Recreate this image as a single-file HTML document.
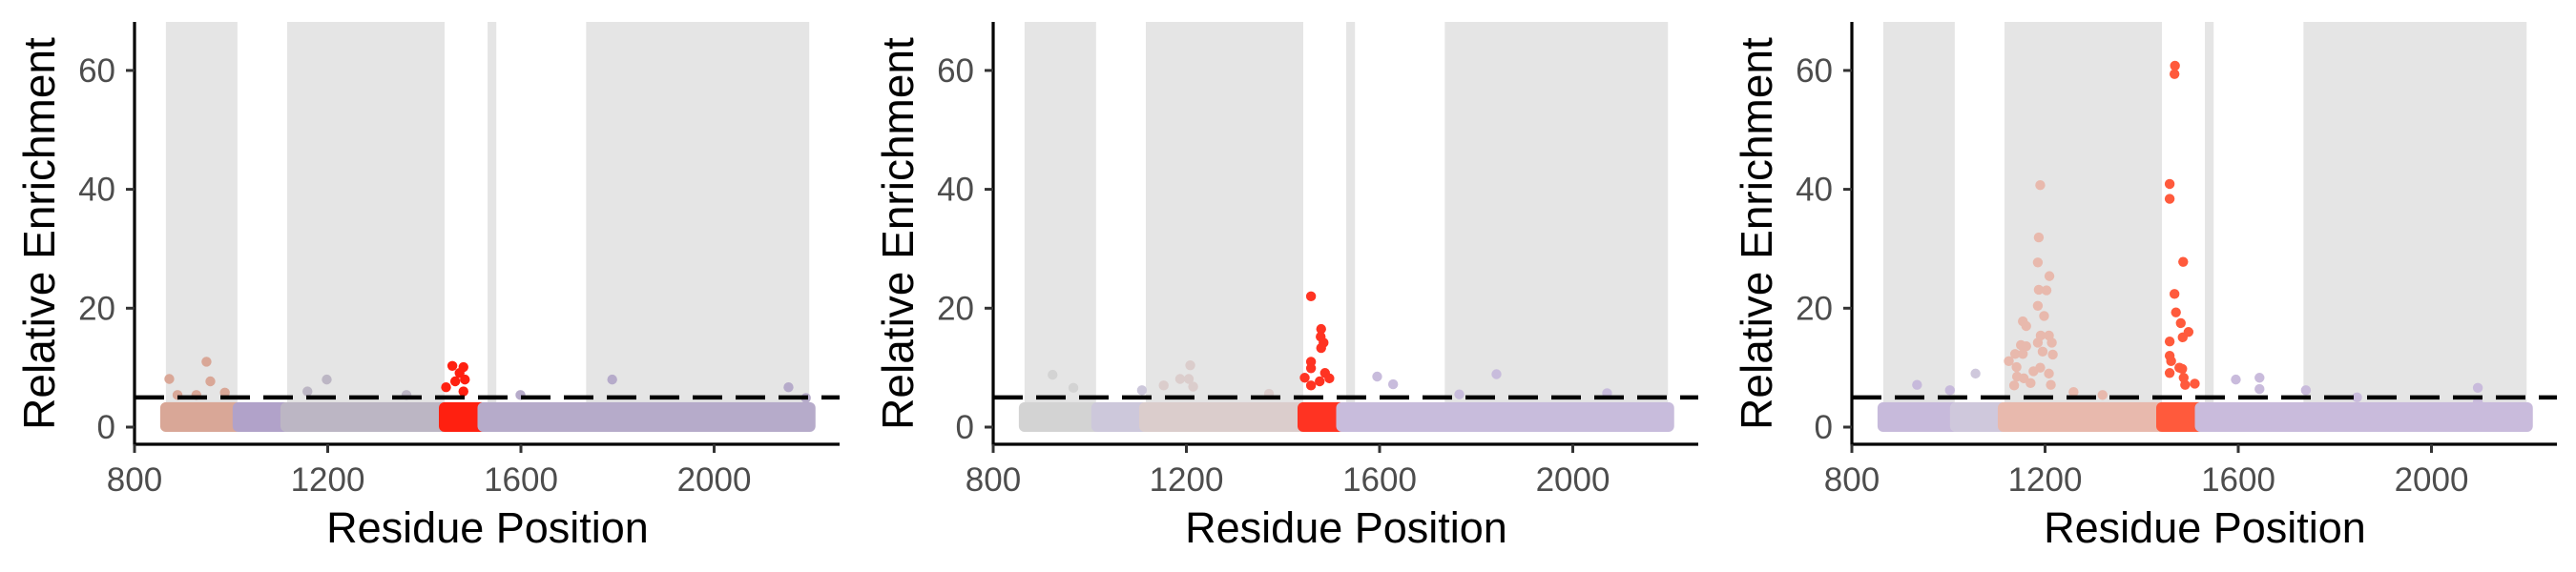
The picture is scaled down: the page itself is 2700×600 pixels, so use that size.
<!DOCTYPE html>
<html><head><meta charset="utf-8"><style>
html,body{margin:0;padding:0;background:#fff;}
svg{display:block;font-family:"Liberation Sans",Arial,sans-serif;}
</style></head><body>
<svg id="chart" width="2700" height="600" viewBox="0 0 2700 600"></svg>
<script>
const xTicks = [800, 1200, 1600, 2000];
const yTicks = [0, 20, 40, 60];
const threshold = 5;
const domainBands = [[865,1013],[1116,1442],[1531,1549],[1735,2197]];
const segStart = [863, 1013, 1112, 1440, 1520];
const segEnd = [1013, 1112, 1440, 1520, 2200];
const colorsP1 = ["#d9a797","#b1a2c9","#bcb6c4","#ff2010","#b6abca"];
const colorsP2 = ["#d3d3d3","#cdc8db","#dbcdcc","#ff3322","#c8bcdc"];
const colorsP3 = ["#c7badb","#cfc8dc","#e8b9ad","#ff5a3c","#c9bbdc"];
const p1X = [872,949,957,889,928,987,1198,1158,1363,1458,1481,1473,1484,1464,1445,1481,1789,2154,2190,1599];
const p1Y = [8.1,11.0,7.7,5.4,5.4,5.8,8.0,6.0,5.4,10.3,10.1,9.1,8.0,7.7,6.7,6.0,8.0,6.7,4.9,5.4];
const p2X = [923,966,1208,1187,1153,1205,1214,1108,1371,1458,1479,1478,1484,1479,1458,1458,1487,1445,1496,1476,1458,1595,1628,1842,2071,1765];
const p2Y = [8.8,6.6,10.4,8.1,7.0,8.1,6.8,6.2,5.6,22.0,16.5,15.2,14.2,13.3,11.0,9.9,9.1,8.3,8.2,7.7,7.0,8.5,7.2,8.9,5.7,5.5];
const p3X = [1469,1468,1458,1458,1486,1468,1471,1481,1497,1485,1458,1458,1461,1478,1484,1458,1487,1510,1490,1190,1187,1185,1209,1187,1203,1185,1198,1154,1161,1191,1208,1185,1214,1150,1161,1195,1216,1138,1154,1125,1190,1141,1176,1208,1142,1156,1170,1212,1136,1259,1319,935,1003,1056,1595,1644,1644,1740,2096,2096,1846];
const p3Y = [60.8,59.4,40.9,38.4,27.8,22.4,19.3,17.5,16.0,15.1,14.4,12.0,11.1,10.0,9.8,9.1,8.3,7.3,7.1,40.7,31.9,27.7,25.4,23.1,23.0,20.4,18.7,17.8,17.0,15.4,15.4,14.2,14.2,13.8,13.6,12.7,12.2,12.3,12.3,11.1,10.0,10.1,9.4,9.0,8.5,8.2,7.4,7.1,7.0,5.9,5.4,7.1,6.2,9.0,8.0,8.3,6.4,6.2,6.6,4.2,5.0];

const NS = "http://www.w3.org/2000/svg";
const svg = document.getElementById("chart");
function mk(tag, attrs, parent) {
  const e = document.createElementNS(NS, tag);
  for (const k in attrs) e.setAttribute(k, attrs[k]);
  parent.appendChild(e);
  return e;
}
function colorAt(x, cols) {
  for (let i = 0; i < segStart.length; i++) if (x >= segStart[i] && x <= segEnd[i]) return cols[i];
  return cols[cols.length - 1];
}
function drawPanel(off, cols, px, py, idx) {
  const g = mk("g", {transform: "translate(" + off + ",0)"}, svg);
  
  
  const xs = v => 141 + (v - 800) * 0.50625;
  const ys = v => 448 - v * 6.235;
  domainBands.forEach((b, i) => {
    const r = mk("rect", {x: xs(b[0]), y: 23, width: xs(b[1]) - xs(b[0]), height: 420, fill: "#e5e5e5"}, g);
    
    
  });
  segStart.forEach((s, i) => {
    const r = mk("rect", {x: xs(s) - 5, y: ys(4.2), width: xs(segEnd[i]) - xs(s) + 10, height: ys(-0.8) - ys(4.2), rx: 6, fill: cols[i]}, g);
    
    
  });
  px.forEach((x, i) => {
    const c = mk("circle", {cx: xs(x), cy: ys(py[i]), r: 5.2, fill: colorAt(x, cols)}, g);
    
    
  });
  const th = mk("line", {x1: 141, x2: 880, y1: ys(threshold), y2: ys(threshold), stroke: "#000", "stroke-width": 4.5, "stroke-dasharray": "31 14"}, g);
  
  
  const ya = mk("line", {x1: 141, x2: 141, y1: 23, y2: 467.5, stroke: "#000", "stroke-width": 3.2}, g);
  
  
  const xa = mk("line", {x1: 139.5, x2: 880, y1: 466, y2: 466, stroke: "#000", "stroke-width": 3.2}, g);
  
  
  yTicks.forEach(v => {
    const t = mk("line", {x1: 132, x2: 141, y1: ys(v), y2: ys(v), stroke: "#333", "stroke-width": 3}, g);
    
    
    const l = mk("text", {x: 121, y: ys(v) + 12, "text-anchor": "end", "font-size": 35, fill: "#4d4d4d"}, g);
    l.textContent = v;
    
    
  });
  xTicks.forEach(v => {
    const t = mk("line", {x1: xs(v), x2: xs(v), y1: 466, y2: 475, stroke: "#333", "stroke-width": 3}, g);
    
    
    const l = mk("text", {x: xs(v), y: 515, "text-anchor": "middle", "font-size": 35, fill: "#4d4d4d"}, g);
    l.textContent = v;
    
    
  });
  const xt = mk("text", {x: 511, y: 569, "text-anchor": "middle", "font-size": 45, fill: "#000"}, g);
  xt.textContent = "Residue Position";
  
  
  const yt = mk("text", {x: 0, y: 0, transform: "translate(57,245) rotate(-90)", "text-anchor": "middle", "font-size": 46, fill: "#000"}, g);
  yt.textContent = "Relative Enrichment";
  
  
}
drawPanel(0, colorsP1, p1X, p1Y, 1);
drawPanel(900, colorsP2, p2X, p2Y, 2);
drawPanel(1800, colorsP3, p3X, p3Y, 3);
</script>
</body></html>
